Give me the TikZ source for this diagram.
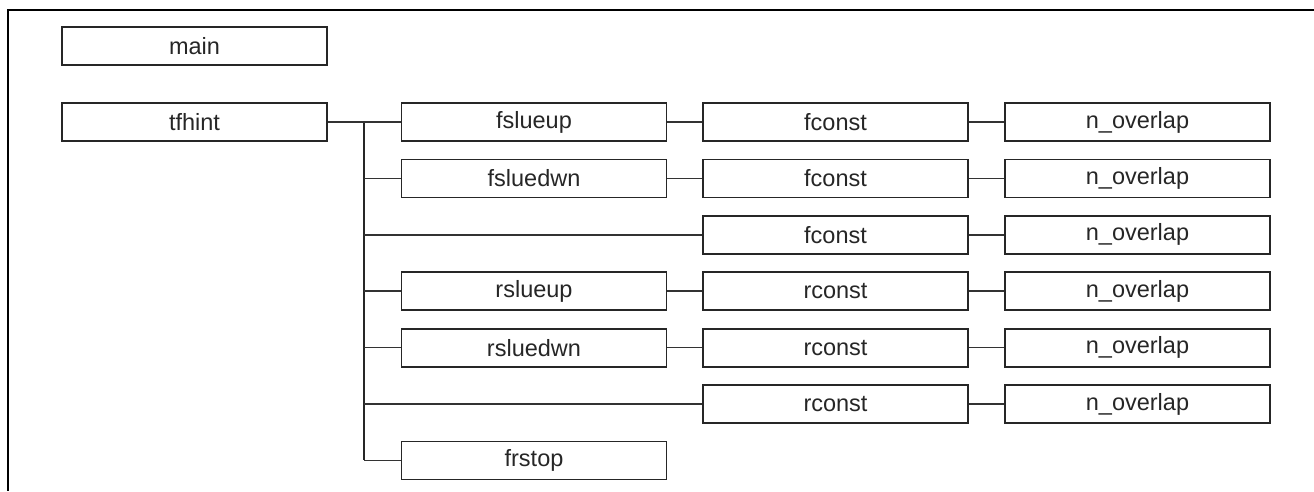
\documentclass[tikz,border=0pt]{standalone}
\usepackage{fontspec}
\setmainfont{Liberation Sans}
\begin{document}
\begin{tikzpicture}[x=1pt,y=-1pt,
  fbox/.style={draw=black!85, line width=1.8pt, minimum width=265pt, minimum height=38pt, inner sep=0pt,
    font=\fontsize{23.5}{26}\selectfont, text=black!85},
  conn/.style={draw=black!80, line width=1.7pt},
  trunk/.style={draw=black!85, line width=2.2pt}]
\useasboundingbox (0,0) rectangle (1314,491);
% frame (top and left edges)
\coordinate (ftop) at (1314,10);
\coordinate (fcorner) at (8,10);
\coordinate (fbot) at (8,491);
\draw[line width=2.5pt] (ftop) -- (fcorner) -- (fbot);
% nodes
\node[fbox] (main) at (194.5,46) {main};
\node[fbox] (tfhint) at (194.5,122) {tfhint};
\node[fbox] (fslueup) at (534,122) {fslueup};
\node[fbox] (fsluedwn) at (534,178.4) {fsluedwn};
\node[fbox] (rslueup) at (534,291.2) {rslueup};
\node[fbox] (rsluedwn) at (534,347.6) {rsluedwn};
\node[fbox] (frstop) at (534,460.4) {frstop};
\node[fbox] (fc1) at (835.5,122) {fconst};
\node[fbox] (fc2) at (835.5,178.4) {fconst};
\node[fbox] (fc3) at (835.5,234.8) {fconst};
\node[fbox] (rc1) at (835.5,291.2) {rconst};
\node[fbox] (rc2) at (835.5,347.6) {rconst};
\node[fbox] (rc3) at (835.5,404) {rconst};
\node[fbox] (no1) at (1137.5,122) {n\_overlap};
\node[fbox] (no2) at (1137.5,178.4) {n\_overlap};
\node[fbox] (no3) at (1137.5,234.8) {n\_overlap};
\node[fbox] (no4) at (1137.5,291.2) {n\_overlap};
\node[fbox] (no5) at (1137.5,347.6) {n\_overlap};
\node[fbox] (no6) at (1137.5,404) {n\_overlap};
% trunk
\coordinate (ttop) at (364,122);
\coordinate (tbot) at (364,460.4);
\draw[trunk] (ttop) -- (tbot);
\draw[conn] (tfhint.east) -- (fslueup.west);
\draw[conn] (fsluedwn.west) -- (fsluedwn.west -| ttop);
\draw[conn] (fc3.west) -- (fc3.west -| ttop);
\draw[conn] (rslueup.west) -- (rslueup.west -| ttop);
\draw[conn] (rsluedwn.west) -- (rsluedwn.west -| ttop);
\draw[conn] (rc3.west) -- (rc3.west -| ttop);
\draw[conn] (frstop.west) -- (tbot);
% chains
\draw[conn] (fslueup) -- (fc1);
\draw[conn] (fsluedwn) -- (fc2);
\draw[conn] (rslueup) -- (rc1);
\draw[conn] (rsluedwn) -- (rc2);
\draw[conn] (fc1) -- (no1);
\draw[conn] (fc2) -- (no2);
\draw[conn] (fc3) -- (no3);
\draw[conn] (rc1) -- (no4);
\draw[conn] (rc2) -- (no5);
\draw[conn] (rc3) -- (no6);
\end{tikzpicture}
\end{document}
